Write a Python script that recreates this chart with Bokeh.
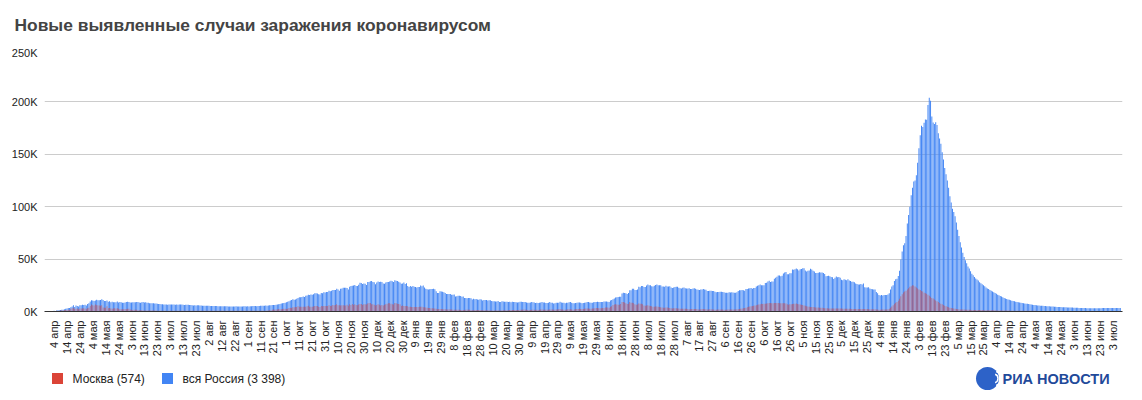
import math
import numpy as np
import pandas as pd
from bokeh.plotting import figure
from bokeh.layouts import column
from bokeh.models import ColumnDataSource, FixedTicker, Title, Range1d
from bokeh.core.properties import value
from bokeh.embed import file_html
from bokeh.resources import INLINE

start_date = "2020-04-04"
months_ru = ["янв", "фев", "мар", "апр", "мая", "июн", "июл", "авг", "сен", "окт", "ноя", "дек"]
y_ticks = [0, 50000, 100000, 150000, 200000, 250000]
y_tick_labels = ["0K", "50K", "100K", "150K", "200K", "250K"]
series_names = ["Москва (574)", "вся Россия (3 398)"]
title_text = "Новые выявленные случаи заражения коронавирусом"
logo_text = "РИА НОВОСТИ"

russia_2020 = [
    601, 582, 954, 1154, 1175, 1459, 1786, 1667, 2186, 2558, 2774, 3388, 3448, 4070, 4785, 6060, 4268, 5642, 5236, 4774, 5849, 5966, 6361, 6198, 6411, 5841, 7099,
    7933, 9623, 10633, 10581, 10102, 10559, 11231, 10699, 10817, 11012, 11656, 10899, 10028, 9974, 10598, 9200, 9709, 8926, 9263, 8764, 8849, 8894, 9434, 8599, 8946, 8915, 8338, 8371, 8572, 8952, 9268,
    9035, 8536, 8536, 8831, 8726, 8855, 8984, 8985, 8595, 8404, 8779, 8987, 8706, 8835, 8246, 8248, 7843, 7790, 7972, 7889, 7728, 7600, 7425, 7176, 7113, 6800, 6852, 6791, 6719, 6693,
    6556, 6760, 6718, 6736, 6632, 6611, 6368, 6562, 6509, 6635, 6615, 6611, 6537, 6248, 6422, 6428, 6406, 6234, 6109, 5940, 5842, 5862, 5811, 5848, 5871, 5765, 5635, 5395, 5475, 5509, 5482,
    5462, 5427, 5159, 5204, 5267, 5241, 5212, 5189, 5118, 5102, 4945, 5058, 5112, 5065, 5061, 5118, 4839, 4718, 4790, 4767, 4838, 4870, 4921, 4852, 4676, 4696, 4711, 4829, 4980, 4897, 4729,
    4952, 4729, 4995, 5110, 5205, 5195, 5185, 5099, 5218, 5363, 5449, 5406, 5509, 5572, 5670, 5529, 5762, 5905, 6065, 6148, 6196, 6215, 6431, 6595, 6800, 7212, 7523, 7867, 8135, 8232,
    8945, 9412, 9859, 10499, 10888, 11615, 11115, 11493, 12126, 12846, 13634, 13592, 13868, 14231, 13754, 14922, 15150, 15982, 15700, 16319, 15971, 16521, 17340, 17347, 17205, 16550, 16202, 17717, 17473, 18283, 18140,
    18665, 18648, 19768, 19404, 19851, 20582, 20498, 20396, 21798, 20977, 19851, 21608, 21983, 22702, 22572, 22778, 22410, 20977, 23610, 24318, 24581, 24822, 25173, 24326, 24315, 25487, 27543, 27100, 26338, 26683,
    26402, 25345, 28145, 28209, 28782, 29039, 28137, 27927, 26097, 27703, 28585, 28137, 28486, 28080, 26689, 26431, 27656, 28214, 28209, 28552, 29350, 28776, 28145, 29935, 29258, 29018, 28284, 27787, 26513, 26689, 27747,
]
russia_2021 = [
    26301, 27039, 24246, 23351, 24217, 23541, 24217, 23652, 23309, 22851, 23315, 23351, 24763, 24092, 24715, 22857, 21734, 21152, 20921, 21127, 21513, 21513, 21734, 21127, 19290, 17648, 17741, 19238, 19032, 18856, 18359,
    17648, 16643, 16714, 16688, 16627, 16048, 15916, 16130, 14207, 14494, 15146, 15038, 14731, 14185, 14207, 12828, 12953, 12742, 12860, 12953, 12742, 11534, 12276, 11749, 11823, 11534, 11198, 11749,
    11385, 10535, 11080, 11048, 11024, 10595, 10653, 10648, 10015, 9851, 9808, 9445, 9437, 9908, 9079, 9079, 9687, 9632, 9360, 9319, 9299, 8997, 9195, 8873, 9218, 9103, 9073, 8885, 8700, 8711, 9384,
    9321, 9024, 9038, 9040, 8634, 8294, 8387, 8589, 8986, 8712, 8702, 8173, 8310, 8173, 8271, 8704, 9073, 8632, 8705, 8053, 8053, 8294, 8996, 8466, 8427, 7737, 7773, 8339, 8367, 8419,
    9270, 8697, 8335, 8407, 7770, 8328, 8419, 8790, 8970, 8232, 7770, 7920, 8217, 8380, 8702, 8554, 8431, 7920, 8217, 8380, 8703, 8947, 8951, 8599, 8373, 8416, 8780, 8952, 9168, 9268, 9035,
    9080, 9145, 9145, 9474, 9595, 9614, 9200, 9150, 10407, 11058, 11699, 12505, 13397, 13510, 13721, 14057, 14185, 17262, 17906, 17611, 17378, 16715, 17594, 20182, 20393, 21665, 21650, 20538, 20616, 21042,
    23543, 23218, 24439, 24353, 23378, 23378, 24702, 25766, 25033, 25142, 24072, 23962, 24471, 25293, 25704, 25151, 24957, 25018, 23947, 23770, 23704, 24471, 23811, 23933, 24072, 22804, 22420, 22966, 23270, 23564, 23564,
    22589, 22153, 22064, 22589, 22804, 22153, 22064, 21932, 22160, 21571, 21571, 21932, 22277, 21624, 21000, 20765, 20564, 20992, 21058, 21379, 21000, 20765, 19630, 19509, 19716, 19706, 19509, 19630, 18780, 18325, 18663,
    18669, 18780, 18856, 18645, 18325, 17856, 17837, 17856, 18341, 18178, 18380, 18178, 17837, 17856, 18341, 19594, 20174, 20329, 20611, 20174, 19706, 21379, 21559, 22056, 22236, 22498, 21758, 22430, 22430, 23888,
    24522, 25110, 25781, 25091, 25133, 25133, 27246, 27550, 28647, 29409, 28190, 28717, 28717, 31299, 32196, 33208, 34303, 34325, 33740, 34073, 36339, 37141, 37678, 35660, 35660, 36446, 36582, 40096, 39849, 40251, 40993,
    40402, 39008, 40217, 40443, 41335, 41335, 39165, 38058, 38823, 39160, 40759, 40123, 38850, 38058, 36626, 36818, 36970, 37374, 37156, 37120, 36818, 35681, 33558, 33860, 33996, 33548, 32930, 32648, 30950, 32136,
    33389, 32602, 32930, 32136, 30209, 29929, 30752, 30209, 29929, 30752, 29558, 29153, 28486, 28363, 27967, 26822, 26335, 25667, 25667, 26335, 25667, 26828, 23210, 22936, 22936, 23210, 21922, 21571, 21155, 21073, 21073,
]
russia_2022 = [
    18659, 17525, 15830, 15381, 15828, 15381, 15828, 15771, 15830, 16246, 17525, 20969, 23820, 25000, 29185, 30726, 31252, 33899, 38850, 49513, 57212, 63205, 65109, 72000, 84000, 92000, 100000, 111000, 118000, 124000, 125000,
    130000, 141883, 155768, 168201, 177282, 176000, 180071, 183103, 183000, 197076, 203949, 201000, 186000, 180456, 179000, 180622, 178000, 170000, 165000, 160000, 152000, 145000, 137000, 131000, 125000, 118000, 110000, 104000,
    98000, 95000, 91000, 85000, 78000, 72000, 66000, 61000, 56000, 52000, 49000, 46000, 43000, 41000, 38500, 36000, 34500, 33000, 31500, 30500, 29500, 28000, 27000, 26000, 25000, 24000, 23000, 22000, 21500, 20500, 19800,
    19100, 18300, 17600, 16900, 16100, 15400, 14700, 14200, 13500, 12900, 12500, 11900, 11500, 11100, 10700, 10300, 10000, 9700, 9400, 9100, 8900, 8600, 8400, 8100, 7900, 7700, 7500, 7300, 7100, 6900,
    6700, 6500, 6300, 6100, 5900, 5800, 5700, 5600, 5500, 5400, 5300, 5200, 5100, 5000, 4900, 4850, 4800, 4700, 4600, 4500, 4400, 4350, 4300, 4200, 4100, 4050, 4000, 3950, 3900, 3850, 3800,
    3750, 3700, 3650, 3600, 3550, 3500, 3450, 3400, 3350, 3300, 3280, 3250, 3220, 3200, 3180, 3150, 3150, 3140, 3130, 3120, 3150, 3160, 3180, 3200, 3230, 3250, 3280, 3300, 3320, 3340,
    3350, 3360, 3370, 3375, 3380, 3385, 3390, 3395, 3398,
]

moscow_2020 = [
    434, 376, 697, 591, 660, 895, 1124, 1030, 1355, 1489, 1355, 1959, 1370, 2649, 3083, 3570, 2512, 2548, 2948, 2068, 2786, 2913, 2904, 3076, 2871, 2220, 3075,
    3561, 5358, 6703, 5948, 5714, 6703, 5858, 5846, 5667, 5392, 5948, 3789, 3562, 3505, 5126, 3064, 3238, 2949, 2604, 2913, 2988, 2840, 3074, 2516, 2140, 2140, 2054, 2140, 2332, 2220, 2595,
    2595, 1947, 1773, 1326, 1645, 1570, 1572, 1195, 1195, 1139, 1195, 1000, 1000, 1056, 844, 1000, 1000, 1008, 917, 849, 850, 863, 789, 749, 749, 730, 690, 666, 664, 654,
    593, 651, 658, 671, 671, 660, 682, 625, 628, 627, 662, 641, 643, 624, 629, 639, 637, 627, 642, 656, 655, 680, 648, 639, 637, 676, 665, 642, 648, 638, 654,
    654, 658, 653, 647, 647, 648, 658, 647, 654, 646, 643, 631, 637, 620, 630, 631, 657, 679, 680, 676, 674, 678, 689, 666, 675, 691, 666, 679, 691, 691, 691,
    691, 705, 692, 694, 695, 681, 701, 699, 724, 769, 750, 766, 779, 786, 793, 880, 1050, 1095, 1050, 1560, 1792, 1560, 1964, 2016, 2304, 2217, 2217, 2345, 2546, 2688,
    2424, 2677, 3327, 3537, 3229, 4082, 4082, 4306, 4406, 4999, 4501, 4418, 4492, 4610, 4477, 4648, 5000, 5376, 4521, 4646, 4618, 4851, 5224, 5312, 5255, 4610, 4312, 5261, 4986, 5268, 5268,
    5268, 5261, 5902, 5232, 5478, 6253, 5997, 6093, 6897, 5997, 5882, 5829, 6038, 5902, 5768, 5829, 6438, 5478, 6902, 6253, 7168, 6253, 6897, 6253, 5902, 6659, 7168, 7168, 6253, 6897,
    6897, 6659, 7750, 7993, 7993, 6868, 6868, 6424, 5820, 6124, 6938, 6424, 5820, 6124, 5820, 6427, 6858, 7411, 7797, 7797, 7288, 6868, 6583, 8203, 7797, 7450, 7052, 6824, 5220, 5820, 5220,
]
moscow_2021 = [
    5220, 5220, 4948, 4425, 4416, 4348, 4356, 4200, 4320, 4252, 4252, 4552, 4550, 4456, 4130, 3981, 3736, 3547, 3336, 3246, 3172, 3032, 2954, 2894, 2516, 2250, 2320, 2407, 2340, 2227, 2150,
    2055, 1934, 1946, 2036, 1990, 1852, 1782, 1670, 1640, 1737, 1674, 1680, 1537, 1525, 1520, 1525, 1626, 1659, 1684, 1582, 1437, 1282, 1301, 1407, 1400, 1419, 1350, 1351,
    1248, 1145, 1221, 1262, 1229, 1222, 1168, 1047, 1022, 1049, 1052, 1074, 1069, 1074, 1004, 1000, 1135, 1240, 1230, 1250, 1256, 1251, 1400, 1428, 1508, 1519, 1530, 1535, 1550, 1510, 1590,
    1714, 1738, 1795, 1780, 1590, 1491, 1500, 1542, 1782, 1700, 1637, 1474, 1575, 1550, 1740, 1897, 2018, 1782, 1614, 1647, 1676, 1729, 1834, 1857, 1792, 1669, 1714, 1870, 1927, 2074,
    2315, 1897, 1937, 1729, 1563, 1728, 2043, 2212, 2140, 1938, 1742, 1901, 2073, 2316, 2457, 2573, 2300, 2297, 2434, 2536, 2766, 2946, 2831, 2557, 2683, 2808, 2910, 3163, 3288, 3300, 2995,
    3018, 2994, 3325, 3457, 3755, 3749, 3701, 3572, 4561, 5071, 6195, 6701, 6998, 6723, 6534, 6534, 7194, 9056, 9120, 8598, 7916, 7268, 7447, 9062, 8451, 8346, 7912, 6801, 6534, 6761,
    7597, 7446, 7327, 6979, 5742, 5383, 5810, 5920, 5421, 5201, 4996, 4480, 4513, 4732, 4750, 4628, 4285, 4047, 3823, 3536, 3604, 3810, 3707, 3523, 3404, 3117, 2855, 3041, 3146, 3079, 2896,
    2816, 2604, 2607, 2692, 2716, 2553, 2518, 2501, 2243, 2191, 2420, 2499, 2500, 2396, 2268, 1981, 1977, 2247, 2319, 2338, 2234, 2111, 1881, 2012, 2068, 2095, 2000, 1933, 1737, 1728, 1820,
    1940, 2011, 1863, 1840, 1704, 1553, 1605, 1853, 1820, 1949, 1941, 1893, 1830, 1945, 2081, 2236, 2421, 2656, 2843, 3067, 3337, 3646, 4072, 4521, 4776, 5046, 5290, 5433, 5728, 6002,
    6322, 6626, 7032, 7280, 7170, 7320, 7492, 7659, 7895, 8139, 8009, 7874, 7885, 8090, 8175, 8200, 8220, 7835, 7893, 7961, 7957, 7866, 7743, 6888, 6500, 6818, 6987, 7150, 7321, 7502, 7654,
    7254, 6915, 6645, 6438, 6216, 5745, 5400, 4941, 4812, 4630, 4403, 4200, 4180, 3960, 3760, 3720, 3700, 3539, 3515, 3477, 3339, 3182, 3030, 3015, 2950, 2910, 2860, 2810, 2763, 2870,
    2964, 2930, 2890, 2950, 2744, 2650, 2722, 2720, 2654, 2636, 2520, 2527, 2471, 2450, 2425, 2442, 2376, 2289, 2295, 2302, 2361, 2338, 2351, 2327, 2285, 2210, 2167, 2180, 2190, 2150, 2080,
]
moscow_2022 = [
    1995, 1855, 1725, 1750, 1802, 1845, 1902, 1930, 1998, 2159, 2553, 3504, 4760, 6021, 7401, 8290, 9178, 10254, 12109, 14518, 16570, 18017, 18986, 19723, 21000, 22300, 23500, 24200, 25000, 24800, 23800,
    23000, 22000, 21000, 20500, 19500, 19000, 18000, 17500, 17000, 16000, 15000, 14000, 13000, 12500, 11500, 10500, 9800, 9000, 8200, 7500, 6800, 6100, 5500, 5000, 4500, 4000, 3600, 3300,
    3000, 2800, 2600, 2400, 2250, 2100, 2000, 1900, 1850, 1800, 1750, 1700, 1650, 1600, 1580, 1550, 1500, 1480, 1450, 1420, 1400, 1380, 1350, 1320, 1300, 1280, 1250, 1220, 1200, 1180, 1150,
    1120, 1100, 1080, 1050, 1020, 1000, 980, 960, 940, 920, 900, 880, 860, 840, 820, 800, 790, 780, 770, 760, 750, 740, 730, 720, 710, 700, 690, 680, 670, 660,
    650, 640, 630, 610, 600, 590, 580, 570, 560, 555, 550, 545, 540, 530, 520, 515, 510, 505, 500, 495, 490, 490, 485, 480, 480, 475, 470, 470, 465, 460, 460,
    460, 455, 455, 450, 450, 450, 445, 445, 440, 440, 440, 445, 450, 455, 460, 470, 480, 485, 490, 495, 500, 505, 510, 515, 520, 530, 535, 540, 545, 550,
    555, 560, 560, 565, 565, 570, 570, 572, 574,
]

russia = russia_2020 + russia_2021 + russia_2022
moscow = moscow_2020 + moscow_2021 + moscow_2022

BLUE = "#4285F4"
RED = "#DB4437"
FONT = "Liberation Sans"

src_ru = ColumnDataSource(dict(x=np.arange(len(russia)), top=russia))
src_mo = ColumnDataSource(dict(x=np.arange(len(moscow)), top=moscow))
n_days = max(len(russia), len(moscow))

W = 1126
FL, FR = 44, 1122          # frame edges (pixels)


def strip(height):
    f = figure(width=W, height=height, output_backend="svg", toolbar_location=None,
               x_range=Range1d(FL, FR), y_range=Range1d(0, max(height, 1)),
               min_border=0, min_border_left=FL, min_border_right=W - FR,
               x_axis_type=None, y_axis_type=None)
    f.outline_line_color = None
    f.xgrid.grid_line_color = None
    f.ygrid.grid_line_color = None
    return f


# top strip carrying the title
H0 = 46
t = strip(H0)
t.title = Title(text=title_text, text_font=FONT, text_font_size="17.4px",
                text_font_style="bold", text_color="#444444", offset=-30, standoff=24)

# main chart
p = figure(width=W, height=318, output_backend="svg", toolbar_location=None,
           x_range=Range1d(-7.4, n_days + 0.7), y_range=Range1d(0, 250000),
           min_border_left=FL, min_border_right=W - FR, min_border_top=3, min_border_bottom=53)
p.outline_line_color = None

p.vbar(x="x", top="top", width=0.75, source=src_ru, color=BLUE, line_color=None)
p.vbar(x="x", top="top", width=0.45, source=src_mo, color=RED, fill_alpha=0.8, line_color=None)

start = pd.Timestamp(start_date)
tick_pos = list(range(0, n_days, 10))
tick_labels = {}
for tp in tick_pos:
    d = start + pd.Timedelta(days=tp)
    tick_labels[tp] = f"{d.day} {months_ru[d.month - 1]}"

xa = p.xaxis[0]
xa.ticker = FixedTicker(ticks=tick_pos)
xa.major_label_overrides = tick_labels
xa.major_label_orientation = math.pi / 2
xa.major_label_text_font = FONT
xa.major_label_text_font_size = "11px"
xa.major_label_text_color = "#222222"
xa.major_label_standoff = 3
xa.major_tick_line_color = None
xa.minor_tick_line_color = None
xa.axis_line_color = "#333333"

ya = p.yaxis[0]
ya.ticker = FixedTicker(ticks=y_ticks)
ya.major_label_overrides = {v: s for v, s in zip(y_ticks, y_tick_labels)}
ya.major_label_text_font = FONT
ya.major_label_text_font_size = "11px"
ya.major_label_text_color = "#222222"
ya.major_label_standoff = 1
ya.major_tick_line_color = None
ya.minor_tick_line_color = None
ya.axis_line_color = None

p.xgrid.grid_line_color = None
p.ygrid.grid_line_color = "#cccccc"
p.ygrid.ticker = FixedTicker(ticks=y_ticks)

# bottom strip: legend + logo (x in pixels of the aligned frame)
H2 = 28
q = strip(H2)
leg_colors = [RED, BLUE]
leg_sq_x = [57, 167]
q.rect(x=leg_sq_x, y=[14, 14], width=11, height=11, color=leg_colors, line_color=None)
q.text(x=[x + 15 for x in leg_sq_x], y=[14, 14], text=series_names,
       text_font=value(FONT), text_font_size="12px", text_color="#222222",
       text_baseline="middle", text_align="left")

# RIA logo approximation
q.circle(x=[987], y=[14], radius=11.5, color="#2d62c8", line_color=None)
q.arc(x=[993, 993, 993], y=[14, 14, 14], radius=[4.5, 7.5, 10.5], start_angle=-1.2, end_angle=1.2,
      line_color="white", line_width=1.5)
q.text(x=[1002], y=[14], text=[logo_text], text_font=value(FONT), text_font_size="14.5px",
       text_font_style="bold", text_color="#1f4a9a", text_baseline="middle", text_align="left")

layout = column(t, p, q, spacing=0)
open("out.html", "w").write(file_html(layout, INLINE))
